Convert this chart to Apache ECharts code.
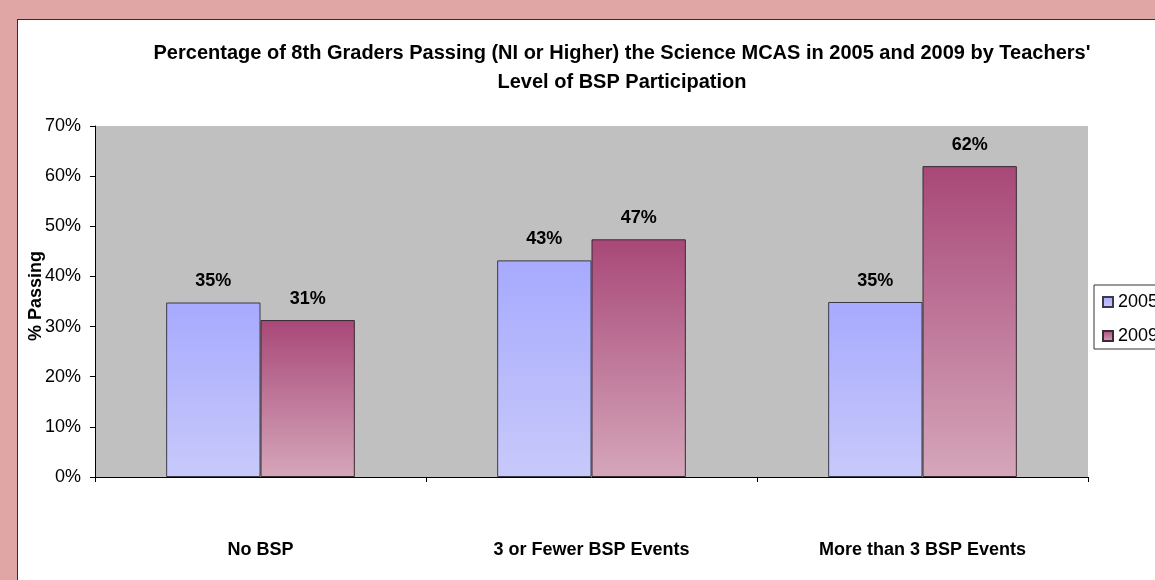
<!DOCTYPE html>
<html>
<head>
<meta charset="utf-8">
<script src="https://cdn.jsdelivr.net/npm/echarts@6/dist/echarts.min.js"></script>
<style>
html,body{margin:0;padding:0;background:#e0a6a6;width:1155px;height:580px;overflow:hidden;}
#frame{position:absolute;left:17px;top:19px;width:1200px;height:600px;background:#fff;border-left:1.5px solid #3a2b2b;border-top:1.5px solid #3a2b2b;}
#chart{position:absolute;left:0;top:0;width:1155px;height:580px;}
</style>
</head>
<body>
<div id="frame"></div>
<div id="chart"></div>
<script>
const categories = ['No BSP', '3 or Fewer BSP Events', 'More than 3 BSP Events'];
const seriesNames = ['2005', '2009'];
const values2005 = [34.8, 43.2, 34.9];
const values2009 = [31.3, 47.4, 62.0];
const yTicks = [0, 10, 20, 30, 40, 50, 60, 70];
const yAxisTitle = '% Passing';

const font = '"Liberation Sans", Arial, sans-serif';
function grad(top, bottom) {
  return new echarts.graphic.LinearGradient(0, 0, 0, 1, [
    {offset: 0, color: top}, {offset: 1, color: bottom}
  ]);
}
const chart = echarts.init(document.getElementById('chart'), null, {renderer: 'canvas'});
const labelCfg = {
  show: true, position: 'top', distance: 12,
  fontFamily: font, fontWeight: 'bold', fontSize: 18, color: '#000',
  formatter: p => Math.round(p.value) + '%'
};
chart.setOption({
  backgroundColor: 'transparent',
  animation: false,
  title: {
    text: 'Percentage of 8th Graders Passing (NI or Higher) the Science MCAS in 2005 and 2009 by Teachers\'\nLevel of BSP Participation',
    left: 617, top: 34, textAlign: 'center',
    textStyle: {fontFamily: font, fontWeight: 'bold', fontSize: 20, lineHeight: 29, color: '#000'}
  },
  graphic: [{
    type: 'text', x: 36, y: 296, rotation: Math.PI / 2,
    style: {text: yAxisTitle, font: 'bold 18px ' + font, fill: '#000', align: 'center', verticalAlign: 'middle'}
  }],
  legend: {
    data: seriesNames,
    orient: 'vertical',
    left: 1094, top: 285,
    padding: [8, 60, 4, 8],
    itemWidth: 10, itemHeight: 10, itemGap: 16,
    backgroundColor: '#fff',
    borderColor: '#333', borderWidth: 1,
    textStyle: {fontFamily: font, fontSize: 18, color: '#000'},
    icon: 'rect'
  },
  grid: {
    left: 95, right: 67, top: 126, bottom: 103,
    show: true, backgroundColor: '#c0c0c0', borderWidth: 0
  },
  xAxis: {
    type: 'category', data: categories,
    axisLine: {show: true, lineStyle: {color: '#000', width: 1}},
    axisTick: {show: true, length: 5, lineStyle: {color: '#000'}},
    axisLabel: {fontFamily: font, fontWeight: 'bold', fontSize: 18, color: '#000', margin: 64}
  },
  yAxis: {
    type: 'value', min: yTicks[0], max: yTicks[yTicks.length - 1], interval: 10,
    axisLine: {show: true, lineStyle: {color: '#000', width: 1}},
    axisTick: {show: true, length: 5, lineStyle: {color: '#000'}},
    splitLine: {show: false},
    axisLabel: {fontFamily: font, fontSize: 18, color: '#000', margin: 14, formatter: '{value}%'}
  },
  series: [
    {
      name: seriesNames[0], type: 'bar', data: values2005,
      barGap: '0%', barCategoryGap: '43%',
      itemStyle: {color: grad('#a7aafe', '#c8c9fa'), borderColor: '#3a3a4a', borderWidth: 1},
      label: labelCfg
    },
    {
      name: seriesNames[1], type: 'bar', data: values2009,
      barGap: '0%', barCategoryGap: '43%',
      itemStyle: {color: grad('#a84878', '#d5a6ba'), borderColor: '#3a2a32', borderWidth: 1},
      label: labelCfg
    }
  ]
});
</script>
</body>
</html>
